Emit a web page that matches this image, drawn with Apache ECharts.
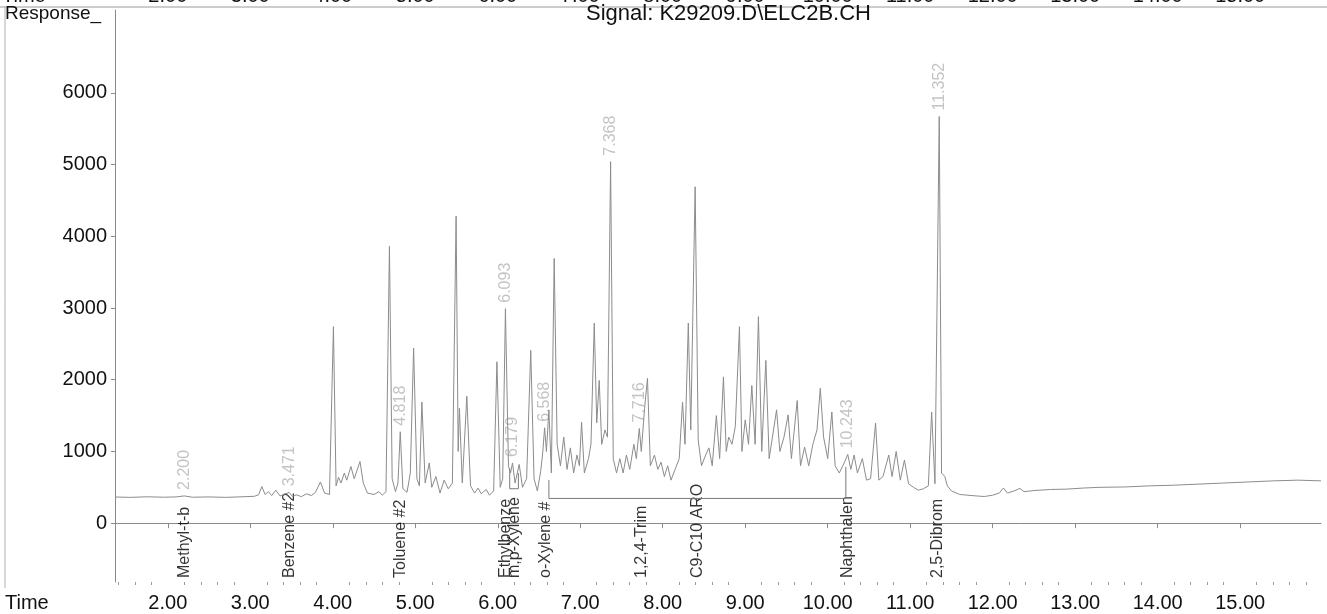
<!DOCTYPE html>
<html>
<head>
<meta charset="utf-8">
<script src="https://cdn.jsdelivr.net/npm/echarts@6/dist/echarts.min.js"></script>
<style>
  html, body { margin: 0; padding: 0; background: #fff; }
  #chart { width: 1327px; height: 614px; }
</style>
</head>
<body>
<div id="chart"></div>
<script>
// chromatogram trace (time in min, response)
var traceTime = [1.36, 1.55, 1.75, 1.95, 2.10, 2.20, 2.30, 2.50, 2.70, 2.90, 3.05, 3.10, 3.14, 3.18, 3.22, 3.26, 3.31, 3.36, 3.42, 3.471,
  3.51, 3.56, 3.62, 3.68, 3.74, 3.79, 3.85, 3.90, 3.96, 4.008, 4.04, 4.07, 4.10, 4.14, 4.17, 4.22, 4.26, 4.33, 4.37, 4.42,
  4.50, 4.56, 4.60, 4.645, 4.687, 4.72, 4.76, 4.79, 4.818, 4.85, 4.90, 4.94, 4.98, 5.02, 5.05, 5.08, 5.12, 5.17, 5.20, 5.25,
  5.30, 5.35, 5.40, 5.45, 5.495, 5.52, 5.535, 5.57, 5.625, 5.67, 5.72, 5.76, 5.80, 5.86, 5.90, 5.95, 5.99, 6.03, 6.06, 6.093,
  6.13, 6.155, 6.179, 6.21, 6.26, 6.30, 6.35, 6.40, 6.44, 6.48, 6.52, 6.545, 6.568, 6.59, 6.62, 6.65, 6.684, 6.72, 6.76, 6.80,
  6.84, 6.88, 6.92, 6.96, 6.99, 7.016, 7.05, 7.10, 7.13, 7.17, 7.20, 7.23, 7.26, 7.30, 7.33, 7.368, 7.40, 7.44, 7.48, 7.52,
  7.56, 7.60, 7.65, 7.68, 7.716, 7.74, 7.78, 7.815, 7.85, 7.90, 7.94, 7.98, 8.02, 8.06, 8.10, 8.15, 8.20, 8.24, 8.27, 8.31,
  8.34, 8.393, 8.43, 8.47, 8.52, 8.56, 8.60, 8.65, 8.69, 8.736, 8.77, 8.80, 8.84, 8.88, 8.93, 8.96, 9.00, 9.04, 9.08, 9.12,
  9.16, 9.20, 9.25, 9.29, 9.33, 9.38, 9.42, 9.47, 9.52, 9.56, 9.63, 9.67, 9.72, 9.77, 9.82, 9.87, 9.91, 9.95, 10.00, 10.05,
  10.09, 10.14, 10.20, 10.243, 10.28, 10.32, 10.36, 10.42, 10.47, 10.52, 10.58, 10.62, 10.67, 10.74, 10.78, 10.83, 10.88, 10.93, 10.98, 11.04,
  11.10, 11.16, 11.22, 11.26, 11.30, 11.352, 11.38, 11.42, 11.45, 11.50, 11.60, 11.70, 11.80, 11.90, 12.00, 12.08, 12.13, 12.18, 12.26, 12.33,
  12.38, 12.50, 12.70, 12.90, 13.10, 13.30, 13.60, 13.90, 14.20, 14.50, 14.80, 15.10, 15.40, 15.70, 15.98];
var traceResp = [365, 360, 368, 362, 366, 380, 362, 366, 360, 368, 375, 395, 510, 400, 440, 385, 460, 380, 405, 430,
  375, 395, 370, 410, 385, 430, 575, 420, 400, 2740, 520, 640, 560, 700, 600, 790, 620, 860, 560, 420,
  400, 440, 390, 440, 3860, 620, 440, 560, 1275, 480, 430, 700, 2440, 620, 520, 1690, 560, 840, 500, 650,
  420, 600, 480, 560, 4280, 1000, 1600, 560, 1770, 520, 420, 490, 410, 470, 390, 450, 2250, 500, 620, 2990,
  800, 700, 840, 560, 820, 500, 620, 2410, 620, 450, 720, 980, 1330, 1000, 1580, 700, 3690, 1100, 800, 1200,
  750, 1050, 700, 950, 800, 1410, 700, 900, 1100, 2790, 1400, 1990, 1100, 1300, 1200, 5040, 900, 700, 900, 700,
  950, 750, 1100, 900, 1320, 1000, 1600, 2020, 800, 950, 750, 850, 650, 800, 600, 750, 900, 1690, 1100, 2790,
  1300, 4690, 1160, 800, 950, 1050, 800, 1500, 900, 2040, 1000, 1200, 1100, 1350, 2740, 1000, 1440, 1100, 1920, 1100,
  2880, 1000, 2270, 900, 1200, 1580, 1000, 1200, 1510, 900, 1710, 800, 1060, 800, 1100, 1300, 1880, 1200, 900, 1550,
  800, 700, 840, 960, 750, 950, 700, 900, 600, 620, 1395, 600, 650, 950, 650, 1000, 600, 880, 550, 500,
  460, 480, 520, 1550, 550, 5670, 700, 650, 520, 450, 400, 390, 380, 372, 390, 420, 490, 420, 450, 485,
  440, 455, 470, 475, 490, 500, 505, 520, 530, 545, 560, 575, 590, 600, 590];

// integration baselines
var baseATime = [6.62, 6.62, 10.22, 10.22];
var baseAResp = [600, 345, 345, 785];
var baseBTime = [6.145, 6.145, 6.25, 6.25];
var baseBResp = [760, 480, 480, 700];

// retention time labels at peak apex
var rtTimes = [2.200, 3.471, 4.818, 6.093, 6.179, 6.568, 7.368, 7.716, 10.243, 11.352];
var rtResp = [380, 430, 1275, 2990, 840, 1330, 5040, 1320, 960, 5670];

// compound names
var compoundNames = ['Methyl-t-b', 'Benzene #2', 'Toluene #2', 'Ethylbenze', 'm,p-Xylene', 'o-Xylene #', '1,2,4-Trim', 'C9-C10 ARO', 'Naphthalen', '2,5-Dibrom'];
var compoundTimes = [2.200, 3.471, 4.818, 6.09, 6.20, 6.575, 7.74, 8.42, 10.243, 11.33];

// axes
var xMin = 1.36, xMax = 15.98;
var yMin = -820, yMax = 7155;
var xMajorTicks = [2, 3, 4, 5, 6, 7, 8, 9, 10, 11, 12, 13, 14, 15];
var xMinorTicks = [1.4, 1.6, 1.8, 2.2, 2.4, 2.6, 2.8, 3.2, 3.4, 3.6, 3.8, 4.2, 4.4, 4.6, 4.8, 5.2, 5.4, 5.6, 5.8,
  6.2, 6.4, 6.6, 6.8, 7.2, 7.4, 7.6, 7.8, 8.2, 8.4, 8.6, 8.8, 9.2, 9.4, 9.6, 9.8, 10.2, 10.4, 10.6, 10.8,
  11.2, 11.4, 11.6, 11.8, 12.2, 12.4, 12.6, 12.8, 13.2, 13.4, 13.6, 13.8, 14.2, 14.4, 14.6, 14.8, 15.2, 15.4, 15.6, 15.8];
var yTicks = [0, 1000, 2000, 3000, 4000, 5000, 6000];

function zip(a, b) {
  var out = [];
  for (var i = 0; i < a.length; i++) out.push([a[i], b[i]]);
  return out;
}

var chart = echarts.init(document.getElementById('chart'));
var baseFont = 'Liberation Sans, Arial, sans-serif';
var narrowFont = 'Liberation Sans Narrow, Arial Narrow, Liberation Sans, sans-serif';

var option = {
  animation: false,
  backgroundColor: '#fff',
  grid: { left: 115, right: 6, top: 10, bottom: 32, outerBoundsMode: 'none', containLabel: false },
  xAxis: [{
    type: 'value', min: xMin, max: xMax,
    axisLine: { show: true, lineStyle: { color: '#8a8a8a', width: 1 } },
    axisTick: { show: true, length: 5, customValues: xMajorTicks, lineStyle: { color: '#8a8a8a' } },
    axisLabel: {
      customValues: xMajorTicks, margin: 11, fontSize: 20, color: '#111', fontFamily: baseFont,
      formatter: function (v) { return v.toFixed(2); }
    },
    splitLine: { show: false }
  }, {
    type: 'value', min: xMin, max: xMax, position: 'bottom',
    axisLine: { show: false },
    axisTick: { show: true, length: 3, customValues: xMinorTicks, lineStyle: { color: '#9a9a9a' } },
    axisLabel: { show: false },
    splitLine: { show: false }
  }, {
    // cut-off axis of the previous plot at the very top of the page
    type: 'value', min: xMin, max: xMax, position: 'top',
    axisLine: { show: false },
    axisTick: { show: false },
    axisLabel: {
      show: true, customValues: xMajorTicks, margin: 4, fontSize: 20, color: '#111', fontFamily: baseFont,
      formatter: function (v) { return v.toFixed(2); }
    },
    splitLine: { show: false }
  }],
  yAxis: {
    type: 'value', min: yMin, max: yMax,
    axisLine: { show: true, lineStyle: { color: '#8a8a8a', width: 1 } },
    axisTick: { show: true, length: 4, customValues: yTicks, lineStyle: { color: '#8a8a8a' } },
    axisLabel: {
      customValues: yTicks, margin: 8, fontSize: 20, color: '#111', fontFamily: baseFont,
      formatter: function (v) { return String(v); }
    },
    splitLine: { show: false }
  },
  graphic: [
    { type: 'line', shape: { x1: 0, y1: 7, x2: 1327, y2: 7 }, style: { stroke: '#9a9a9a', lineWidth: 1 }, silent: true },
    { type: 'line', shape: { x1: 5, y1: 7, x2: 5, y2: 588 }, style: { stroke: '#b0b0b0', lineWidth: 1 }, silent: true },
    { type: 'text', x: 5, y: 4, style: { text: 'Response_', fontSize: 19, fontFamily: narrowFont, fill: '#111' } },
    { type: 'text', x: 586, y: 3, style: { text: 'Signal: K29209.D\\ELC2B.CH', fontSize: 22, fontFamily: narrowFont, fill: '#111' } },
    { type: 'text', x: 5, y: 593, style: { text: 'Time', fontSize: 20, fontFamily: baseFont, fill: '#111' } },
    { type: 'text', x: 2, y: -14, style: { text: 'Time', fontSize: 20, fontFamily: baseFont, fill: '#111' } }
  ],
  series: [{
    name: 'signal', type: 'line', xAxisIndex: 0, data: zip(traceTime, traceResp),
    symbol: 'none', lineStyle: { color: '#8c8c8c', width: 1 }, silent: true
  }, {
    name: 'baseA', type: 'line', data: zip(baseATime, baseAResp),
    symbol: 'none', lineStyle: { color: '#7a7a7a', width: 1 }, silent: true
  }, {
    name: 'baseB', type: 'line', data: zip(baseBTime, baseBResp),
    symbol: 'none', lineStyle: { color: '#7a7a7a', width: 1 }, silent: true
  }, {
    name: 'rt', type: 'scatter', data: zip(rtTimes, rtResp), symbolSize: 0, silent: true,
    label: {
      show: true, position: 'top', distance: 6, rotate: 90, align: 'left', verticalAlign: 'middle',
      fontSize: 16, fontFamily: baseFont, color: '#b4b4b4',
      formatter: function (p) { return p.value[0].toFixed(3); }
    }
  }, {
    name: 'names', type: 'scatter', data: zip(compoundTimes, compoundTimes.map(function () { return yMin; })),
    symbolSize: 0, silent: true,
    label: {
      show: true, position: 'top', distance: 4, rotate: 90, align: 'left', verticalAlign: 'middle',
      fontSize: 16, fontFamily: baseFont, color: '#000',
      formatter: function (p) { return compoundNames[p.dataIndex]; }
    }
  }]
};
chart.setOption(option);
</script>
</body>
</html>
